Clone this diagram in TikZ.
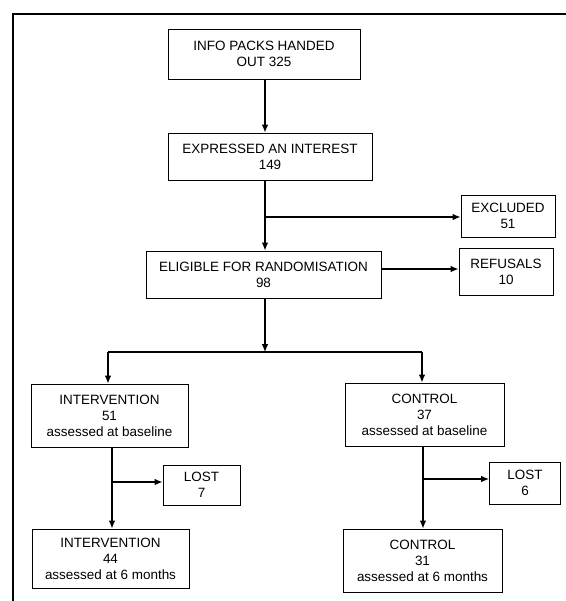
\documentclass[tikz,border=0pt]{standalone}
\usepackage{fontspec}
\setmainfont{Liberation Sans}
\usetikzlibrary{arrows.meta}
\begin{document}
\begin{tikzpicture}[x=0.75pt,y=-0.75pt,
  box/.style={draw=black,line width=0.75pt,inner sep=0pt,align=center,
    font=\fontsize{10.1}{12}\selectfont},
  conn/.style={line width=0.85pt,draw=black},
  arr/.style={conn,-{Latex[length=6pt,width=5pt]}}]
\useasboundingbox (0,0) rectangle (566,601);
% frame
\coordinate (fa) at (13,601);
\coordinate (fb) at (13,14);
\coordinate (fc) at (566,14);
\draw[conn] (fa) -- (fb) -- (fc);
% boxes
\node[box,minimum width=192*0.75pt,minimum height=50*0.75pt] (b1) at (264,54) {INFO PACKS HANDED\\OUT 325};
\node[box,minimum width=204*0.75pt,minimum height=47*0.75pt] (b2) at (270,156.5) {EXPRESSED AN INTEREST\\149};
\node[box,minimum width=94*0.75pt,minimum height=42*0.75pt] (excl) at (508,216) {EXCLUDED\\51};
\node[box,minimum width=235*0.75pt,minimum height=47*0.75pt] (b3) at (263.5,274.5) {ELIGIBLE FOR RANDOMISATION\\98};
\node[box,minimum width=94*0.75pt,minimum height=47*0.75pt] (ref) at (506,271.5) {REFUSALS\\10};
\node[box,minimum width=157*0.75pt,minimum height=63*0.75pt] (int1) at (109.5,415.5) {INTERVENTION\\51\\assessed at baseline};
\node[box,minimum width=159*0.75pt,minimum height=63*0.75pt] (ctl1) at (424.5,414.5) {CONTROL\\37\\assessed at baseline};
\node[box,minimum width=77*0.75pt,minimum height=40*0.75pt] (lost7) at (201.5,485) {LOST\\7};
\node[box,minimum width=71*0.75pt,minimum height=42*0.75pt] (lost6) at (525,483) {LOST\\6};
\node[box,minimum width=157*0.75pt,minimum height=59*0.75pt] (int2) at (110.5,558.5) {INTERVENTION\\44\\assessed at 6 months};
\node[box,minimum width=159*0.75pt,minimum height=63*0.75pt] (ctl2) at (422.5,560.5) {CONTROL\\31\\assessed at 6 months};
% spine coordinates
\coordinate (sp) at (265,0);
\coordinate (j1) at (265,217);
\coordinate (rj) at (0,269);
\coordinate (split) at (265,352);
\coordinate (sl) at (108,352);
\coordinate (sr) at (422,352);
\coordinate (li) at (112,482);
\coordinate (lc) at (423,479);
% connectors
\draw[arr] (b1.south -| sp) -- (b2.north -| sp);
\draw[arr] (b2.south -| sp) -- (b3.north -| sp);
\draw[arr] (j1) -- (j1 -| excl.west);
\draw[arr] (b3.east |- rj) -- (ref.west |- rj);
\draw[arr] (b3.south -| sp) -- (split);
\draw[conn] (sl) -- (sr);
\draw[arr] (sl) -- (int1.north -| sl);
\draw[arr] (sr) -- (ctl1.north -| sr);
\draw[arr] (int1.south -| li) -- (int2.north -| li);
\draw[arr] (li) -- (li -| lost7.west);
\draw[arr] (ctl1.south -| lc) -- (ctl2.north -| lc);
\draw[arr] (lc) -- (lc -| lost6.west);
\end{tikzpicture}
\end{document}
